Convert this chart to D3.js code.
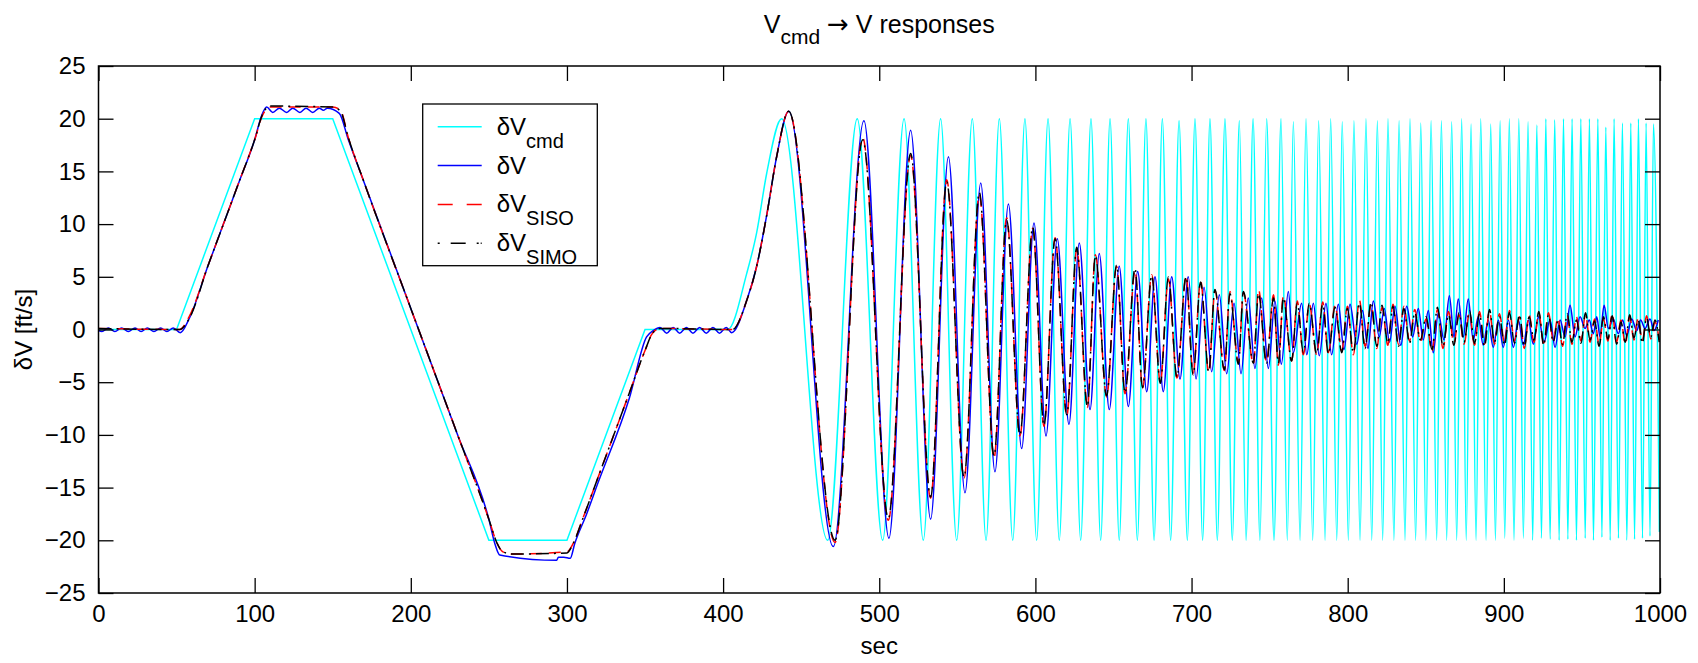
<!DOCTYPE html>
<html>
<head>
<meta charset="utf-8">
<script src="https://cdn.jsdelivr.net/npm/d3@7"></script>
<style>
body { margin: 0; background: #fff; }
text { font-family: "Liberation Sans", Arial, Helvetica, sans-serif; }
</style>
</head>
<body>
<svg id="chart" width="1698" height="663"></svg>
<script>
// tick labels
const xTickVals = [0, 100, 200, 300, 400, 500, 600, 700, 800, 900, 1000]
const yTickVals = [-25, -20, -15, -10, -5, 0, 5, 10, 15, 20, 25]

// legend subscripts (all entries read "δV" + subscript)
const legendSubs = ['cmd', '', 'SISO', 'SIMO']

// command: ramps / plateaus (straight segments)
const cmdRamp = [[0,0],[50,0],[100,20],[150,20],[250,-20],[300,-20],[350,0],[403,0]]

// command: frequency sweep, read as successive peaks / troughs [sec, ft/s]
const cmdChirp = [[395,0],[403,0],[415.1,5.3],[421.5,9.2],[427.9,14.8],[437.5,20],[467.0,-20],[485.9,20],[502.2,-20],
  [515.9,20],[528.2,-20],[539.3,20],[549.6,-20],[559.6,20],[568.4,-20],[576.9,20],[585.5,-20],[593.3,20],[600.8,-20],
  [608.1,20],[615.3,-20],[622.2,20],[629.0,-20],[635.6,20],[641.8,-20],[647.8,20],[653.7,-20],[659.5,20],[665.3,-20],
  [670.8,20],[676.0,-20],[681.3,20],[686.6,-20],[692.0,19.8],[697.3,-20],[702.2,20],[707.1,-20],[711.8,20],[716.5,-20],
  [721.4,20],[726.1,-20],[730.6,19.8],[734.9,-20],[739.4,20],[743.8,-20],[748.1,20],[752.8,-20],[757.3,20],[761.3,-20],
  [765.2,19.7],[769.5,-20],[773.3,20],[777.6,-20],[781.4,19.8],[785.5,-20],[789.1,20],[793.0,-20],[796.5,19.7],[800.4,-20],
  [804.0,19.8],[807.9,-20],[811.7,20],[815.4,-20],[819.0,19.8],[822.4,-20],[825.8,20],[829.6,-20],[832.9,19.8],[836.7,-20],
  [839.9,20],[843.5,-20],[846.8,19.6],[850.1,-20],[853.4,19.8],[857.0,-20],[860.0,19.8],[863.4,-20],[866.6,19.7],[869.8,-20],
  [873.0,20],[875.9,-20],[879.0,19.5],[882.2,-20],[885.2,20],[888.6,-20],[891.6,19.5],[894.6,-20],[897.6,19.8],[900.6,-19.8],
  [903.5,20],[906.5,-20],[909.6,20],[912.5,-19.8],[915.5,19.7],[918.5,-20],[921.1,19.4],[924.1,-19.8],[926.9,20],[929.6,-19.9],
  [932.6,19.9],[935.4,-20],[938.2,20],[941.0,-19.9],[943.7,20],[946.5,-20],[949.3,20],[952.1,-19.8],[954.8,20],[957.4,-20],
  [960.2,20],[962.8,-19.7],[965.3,19.2],[968.1,-20],[970.6,20],[973.4,-19.8],[975.9,19.6],[978.8,-20],[981.3,19.6],[983.7,-19.9],
  [986.2,20],[988.8,-19.8],[991.1,19.6],[993.6,-19.6],[995.8,19.5],[999.6,-19.2]]

// dV response [sec, ft/s]
const dV = [[0,-0.1],[2.2,-0.2],[6.3,0.15],[10.5,-0.2],[14.8,0.15],[19.1,-0.2],[23.4,0.15],[27.3,-0.2],[31.3,0.15],
  [35.5,-0.2],[39.8,0.15],[43.8,-0.2],[47.9,0.15],[52.3,-0.3],[58,1.0],[70,6.0],[80,10.0],[90,14.0],[100,18.0],[104.5,20.3],
  [107.7,21.1],[111.6,20.6],[115.8,21.0],[120.5,20.6],[124.4,21.0],[129.0,20.6],[132.9,21.0],[137.2,20.6],[141.4,21.0],
  [144.0,20.8],[146.5,21.0],[154.2,20.5],[160,18.0],[170,14.0],[200,2.0],[230,-10.0],[250,-18.0],[254,-20.4],[257,-21.4],
  [293.4,-21.9],[294.5,-21.6],[298,-21.6],[302.1,-21.7],[305,-20.3],[312.6,-17.5],[320,-14.5],[340,-6.5],[351,-0.7],[355.3,-0.1],
  [359.6,0.2],[363.9,-0.35],[368.0,0.2],[372.2,-0.35],[376.5,0.2],[380.7,-0.35],[385.0,0.2],[389.2,-0.35],[393.5,0.2],
  [397.7,-0.35],[402.0,0.2],[405.5,-0.3],[415.0,2.7],[421.5,6.0],[428.0,10.9],[434.3,16.4],[442.0,20.7],[470.6,-20.6],
  [490.2,19.8],[506.2,-19.8],[520.1,18.9],[532.9,-18.0],[544.3,16.4],[554.9,-15.5],[565.0,13.9],[574.1,-13.5],[582.7,11.9],
  [591.2,-11.3],[599.1,10.1],[606.8,-10.1],[614.0,8.6],[621.5,-9.0],[628.1,8.2],[635.0,-7.6],[640.9,7.2],[647.3,-7.6],
  [653.7,6.0],[659.5,-7.3],[665.5,5.5],[671.3,-5.9],[676.6,5.0],[681.9,-5.9],[687.3,5.0],[692.6,-4.7],[697.9,5.0],
  [702.9,-4.7],[708.0,4.0],[712.9,-4.0],[717.8,3.3],[722.5,-4.2],[727.2,2.5],[731.7,-4.2],[736.3,3.0],[740.6,-3.7],
  [744.9,3.0],[749.2,-3.7],[753.4,2.7],[757.5,-3.3],[762.0,3.6],[765.2,-2.2],[770.5,2.5],[773.8,-2.4],[778.0,2.5],
  [781.8,-2.5],[786.1,2.5],[789.7,-2.4],[794.0,2.4],[797.6,-1.9],[801.5,2.4],[805.8,-1.4],[809.5,1.8],[813.0,-1.8],
  [816.4,2.7],[820.2,-0.7],[823.4,2.0],[826.8,-1.2],[830.3,2.2],[834.0,-1.5],[837.8,2.2],[841.6,-0.7],[845.2,2.0],
  [848.4,-1.0],[851.6,1.8],[854.8,-2.2],[858.0,1.6],[861.7,-1.0],[865.1,3.2],[868.1,-0.7],[870.8,2.9],[874.0,-0.7],
  [877.2,2.9],[880.4,-1.0],[883.6,1.2],[886.8,-1.5],[890.0,0.9],[893.2,-1.7],[896.5,0.9],[899.6,-1.7],[902.9,0.9],
  [906.1,-1.7],[909.3,0.9],[912.5,-1.5],[915.7,0.9],[918.9,-1.4],[922.1,1.2],[925.7,-1.2],[929.6,0.9],[932.8,-1.7],
  [936.0,0.9],[939.2,-0.7],[942.4,2.3],[945.6,-0.7],[948.8,1.2],[952.0,0.1],[954.7,0.9],[957.3,-0.4],[959.5,1.2],
  [961.6,-0.7],[964.2,2.3],[966.9,0.1],[970.1,1.0],[973.3,-0.4],[976.1,0.9],[978.7,-0.6],[981.9,1.0],[985.1,-0.1],
  [987.6,0.9],[990.4,0.1],[993.6,1.0],[996.2,-0.1],[998.9,0.9]]

// SISO / SIMO responses, rows of [sec, SISO, SIMO]
const respRows = [[0,0.1,0.1],[52,0.0,0.0],[58,1.2,1.0],[70,6.0,6.0],[80,10.0,10.0],[90,14.0,14.0],[100,18.0,18.0],
  [105,20.3,20.4],[110,21.1,21.2],[150,21.1,21.1],[155,20.8,20.7],[160,18.2,18.2],[170,14.0,14.0],[200,2.0,2.0],
  [230,-10.0,-10.0],[250,-18.0,-18.0],[255,-20.2,-20.2],[259,-21.1,-21.1],[265,-21.3,-21.3],[300,-21.1,-21.2],
  [304,-20.3,-20.3],[310,-18.0,-18.0],[320,-14.0,-14.0],[340,-6.0,-6.0],[350,-2.0,-2.0],[355,-0.3,-0.3],[360,0.1,0.1],
  [406,0.0,0.0],[415,2.7,2.7],[421.5,6.0,6.0],[428,10.9,10.9],[434.3,16.4,16.4],[442,20.7,20.7],[471.7,-20.2,-20.0],
  [489.4,18.2,18.0],[505.8,-18.1,-17.9],[520.1,16.5,16.7],[532.9,-16.0,-15.9],[543.2,14.2,14.0],[554.3,-14.1,-14.0],
  [564.1,12.8,13.0],[573.5,-12.2,-12.0],[581.6,10.6,10.4],[590.1,-10.1,-10.0],[598.3,9.6,9.7],[605.5,-9.2,-9.1],
  [612.6,8.7,8.6],[620.1,-8.2,-8.1],[626.5,7.6,7.8],[633.3,-7.4,-7.3],[638.4,7.1,7.0],[645.6,-6.4,-6.3],[652.0,6.0,6.1],
  [657.4,-6.1,-6.0],[663.8,5.6,5.8],[668.6,-5.6,-5.5],[674.5,5.2,5.1],[680.0,-5.0,-5.1],[685.2,4.8,5.0],[690.6,-4.6,-4.5],
  [696.5,5.1,5.0],[701.0,-4.2,-4.3],[705.8,4.6,4.5],[711.0,-4.1,-4.0],[715.0,3.7,3.8],[721.0,-3.9,-3.8],[724.6,3.6,3.4],
  [730.0,-3.2,-3.3],[733.2,3.5,3.6],[739.6,-3.3,-3.2],[742.9,3.8,3.4],[748.0,-3.1,-3.2],[752.5,3.3,3.0],[755.6,-3.4,-3.2],
  [758.8,3.2,3.0],[764.1,-3.0,-3.0],[767.7,2.7,2.5],[771.6,-2.4,-2.2],[775.4,2.4,2.5],[780.1,-2.4,-2.3],[784.0,2.6,2.4],
  [787.6,-2.2,-2.3],[791.9,2.3,2.1],[796.2,-2.0,-2.2],[799.8,2.2,2.0],[803.6,-2.4,-2.2],[807.5,2.8,2.5],[811.1,-1.6,-1.8],
  [815.0,2.4,2.6],[818.6,-1.8,-1.6],[822.0,2.1,2.3],[825.7,-1.5,-1.3],[829.0,2.4,2.2],[832.5,-1.4,-1.6],[836.0,2.2,2.0],
  [839.6,-1.1,-1.3],[843.0,1.9,1.6],[846.5,-1.2,-1.0],[850.2,1.0,1.2],[854.0,-2.1,-1.9],[857.5,1.9,2.1],[861.0,-1.8,-1.6],
  [864.6,1.7,1.4],[868.0,-1.3,-1.5],[871.3,1.4,1.6],[874.5,-1.4,-1.2],[878.0,1.6,1.8],[881.2,-1.5,-1.3],[884.4,1.7,1.5],
  [887.6,-1.4,-1.6],[890.8,1.7,1.9],[894.0,-1.4,-1.2],[897.2,1.5,1.2],[900.4,-1.3,-1.5],[903.6,1.8,1.6],[906.8,-1.1,-1.3],
  [910.0,1.2,1.4],[913.1,-1.8,-1.6],[916.2,1.4,1.2],[919.3,-1.2,-1.0],[922.4,1.5,1.7],[925.5,-1.3,-1.5],[928.6,1.6,1.4],
  [931.6,-1.0,-1.2],[934.6,1.1,0.8],[937.6,-1.6,-1.4],[940.6,1.3,1.5],[943.6,-1.4,-1.2],[946.5,1.2,0.9],[949.4,-1.1,-1.3],
  [952.3,1.4,1.6],[955.2,-1.2,-1.0],[958.1,1.0,0.8],[961.0,-1.4,-1.6],[963.8,1.0,1.2],[966.6,-1.1,-0.9],[969.4,1.5,1.3],
  [972.2,-1.2,-1.4],[975.0,0.9,0.7],[977.8,-1.4,-1.2],[980.6,1.2,1.4],[983.3,-1.0,-0.8],[986.0,1.1,0.9],[988.7,-1.1,-1.3],
  [991.4,1.3,1.1],[994.1,-0.9,-0.7],[996.8,0.7,0.9],[999.5,-1.0,-1.2]]

const svg = d3.select('#chart')
const plotLeft = 98.5, plotRight = 1660, plotTop = 66, plotBottom = 593
const fontSize = 24

const xRange = d3.scaleLinear().domain([0, 1000]).range([plotLeft, plotRight])
const yRange = d3.scaleLinear().domain([-25, 25]).range([plotBottom, plotTop])

svg.append('defs').append('clipPath').attr('id', 'plotClip')
    .append('rect')
    .attr('x', plotLeft).attr('y', plotTop)
    .attr('width', plotRight - plotLeft).attr('height', plotBottom - plotTop)

const plot = svg.append('g').attr('clip-path', 'url(#plotClip)')

const straight = d3.line()
    .x(function(d) { return xRange(d[0]) })
    .y(function(d) { return yRange(d[1]) })

const smooth = d3.line()
    .curve(d3.curveMonotoneX)
    .x(function(d) { return xRange(d[0]) })
    .y(function(d) { return yRange(d[1]) })

// command
plot.append('path').datum(cmdRamp)
    .attr('fill', 'none').attr('stroke', '#00ffff').attr('stroke-width', 1.5)
    .attr('d', straight)
plot.append('path').datum(cmdChirp)
    .attr('fill', 'none').attr('stroke', '#00ffff').attr('stroke-width', 1.5)
    .attr('d', smooth)

// dV
plot.append('path').datum(dV)
    .attr('fill', 'none').attr('stroke', '#0000ff').attr('stroke-width', 1.5)
    .attr('d', smooth)

// SISO
plot.append('path').datum(respRows.map(r => [r[0], r[1]]))
    .attr('fill', 'none').attr('stroke', '#ff0000').attr('stroke-width', 1.5)
    .attr('stroke-dasharray', '12,7')
    .attr('d', smooth)

// SIMO
plot.append('path').datum(respRows.map(r => [r[0], r[2]]))
    .attr('fill', 'none').attr('stroke', '#000000').attr('stroke-width', 1.5)
    .attr('stroke-dasharray', '13,5,2,5')
    .attr('d', smooth)

// axes, MATLAB style: ticks pointing inwards on all four sides
function styleAxis(g) {
    g.select('.domain').remove()
    g.selectAll('.tick line').attr('stroke', '#000').attr('stroke-width', 1.3)
    g.selectAll('text').attr('font-size', fontSize).attr('fill', '#000')
        .attr('font-family', '"Liberation Sans", Arial, Helvetica, sans-serif')
}

svg.append('g')
    .attr('transform', `translate(0, ${plotBottom})`)
    .call(d3.axisBottom(xRange).tickValues(xTickVals).tickSize(-15).tickPadding(12).tickFormat(d3.format('d')))
    .call(styleAxis)

svg.append('g')
    .attr('transform', `translate(0, ${plotTop})`)
    .call(d3.axisTop(xRange).tickValues(xTickVals).tickSize(-15).tickFormat(''))
    .call(styleAxis)

svg.append('g')
    .attr('transform', `translate(${plotLeft}, 0)`)
    .call(d3.axisLeft(yRange).tickValues(yTickVals).tickSize(-15).tickPadding(13).tickFormat(d3.format('d')))
    .call(styleAxis)

svg.append('g')
    .attr('transform', `translate(${plotRight}, 0)`)
    .call(d3.axisRight(yRange).tickValues(yTickVals).tickSize(-15).tickFormat(''))
    .call(styleAxis)

svg.append('rect')
    .attr('x', plotLeft).attr('y', plotTop)
    .attr('width', plotRight - plotLeft).attr('height', plotBottom - plotTop)
    .attr('fill', 'none').attr('stroke', '#000').attr('stroke-width', 1.5)

// title
const title = svg.append('text')
    .attr('x', (plotLeft + plotRight) / 2).attr('y', 33)
    .attr('text-anchor', 'middle').attr('font-size', 25)
title.append('tspan').text('V')
title.append('tspan').attr('dy', 11).attr('font-size', 21).text('cmd')
title.append('tspan').attr('dy', -11).text(' ')
title.append('tspan').attr('font-family', '"DejaVu Sans", sans-serif').attr('font-size', 26).text('\u2192')
title.append('tspan').text(' V responses')

// axis labels
svg.append('text')
    .attr('x', (plotLeft + plotRight) / 2).attr('y', 654)
    .attr('text-anchor', 'middle').attr('font-size', fontSize)
    .text('sec')

svg.append('text')
    .attr('transform', `translate(32, ${(plotTop + plotBottom) / 2}) rotate(-90)`)
    .attr('text-anchor', 'middle').attr('font-size', fontSize)
    .text('\u03b4V [ft/s]')

// legend
const legendStyles = [
    { color: '#00ffff', dash: null },
    { color: '#0000ff', dash: null },
    { color: '#ff0000', dash: '15,14' },
    { color: '#000000', dash: '2,11,15,11,2' }
]
const legend = svg.append('g')
legend.append('rect')
    .attr('x', 422.7).attr('y', 104).attr('width', 174.6).attr('height', 161.7)
    .attr('fill', '#fff').attr('stroke', '#000').attr('stroke-width', 1.3)

const rowY = d3.scalePoint().domain(d3.range(legendSubs.length)).range([126.7, 243.3])

legendSubs.forEach((sub, i) => {
    const y = rowY(i)
    legend.append('line')
        .attr('x1', 437.7).attr('x2', 481.7).attr('y1', y).attr('y2', y)
        .attr('stroke', legendStyles[i].color).attr('stroke-width', 1.5)
        .attr('stroke-dasharray', legendStyles[i].dash)
    const t = legend.append('text')
        .attr('x', 496.7).attr('y', y + 8).attr('font-size', fontSize)
    t.append('tspan').text('\u03b4V')
    if (sub) t.append('tspan').attr('dy', 13).attr('font-size', 20).text(sub)
})
</script>
</body>
</html>
